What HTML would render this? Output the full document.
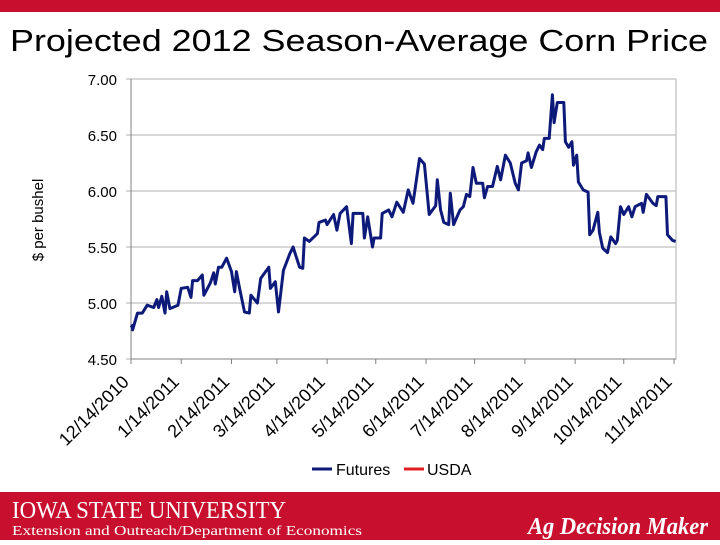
<!DOCTYPE html>
<html><head><meta charset="utf-8"><style>
body{margin:0;width:720px;height:540px;overflow:hidden;background:#fff;font-family:"Liberation Sans",sans-serif;}
</style></head><body>
<svg width="720" height="540" xmlns="http://www.w3.org/2000/svg">
<rect x="0" y="0" width="720" height="12" fill="#c8102e"/>
<text x="10" y="51" textLength="698" lengthAdjust="spacingAndGlyphs" font-size="31" font-family="Liberation Sans" fill="#000">Projected 2012 Season-Average Corn Price</text>
<g id="grid"></g><g id="axes"></g><g id="series"></g>
<text transform="translate(43,220) rotate(-90)" text-anchor="middle" font-size="15" fill="#000">$ per bushel</text>
<g>
<line x1="312" y1="469" x2="332" y2="469" stroke="#0d1a7a" stroke-width="3"/>
<text x="336" y="475" font-size="16">Futures</text>
<line x1="404" y1="469" x2="424" y2="469" stroke="#e02020" stroke-width="3"/>
<text x="427" y="475" font-size="16">USDA</text>
</g>
<rect x="0" y="492" width="720" height="48" fill="#c8102e"/>
<text x="12" y="518" textLength="274" lengthAdjust="spacingAndGlyphs" font-family="Liberation Serif" font-size="24" fill="#fff">IOWA STATE UNIVERSITY</text>
<text x="12" y="535" textLength="350" lengthAdjust="spacingAndGlyphs" font-family="Liberation Serif" font-size="14" fill="#fff">Extension and Outreach/Department of Economics</text>
<text x="708" y="534" textLength="180" lengthAdjust="spacingAndGlyphs" text-anchor="end" font-family="Liberation Serif" font-style="italic" font-weight="bold" font-size="24" fill="#fff">Ag Decision Maker</text>
</svg>
<script>
const days=[0,1,1,4,7,10,14,16,17,19,21,22,24,29,31,35,37,38,41,44,45,49,51,52,54,56,59,62,64,65,67,70,73,74,78,80,85,86,89,91,94,98,100,102,104,106,107,110,115,116,120,121,125,127,129,133,136,137,143,144,146,149,150,154,155,159,161,164,168,171,174,178,181,184,188,189,191,193,196,197,199,203,205,207,209,211,213,217,218,220,223,226,228,231,234,237,239,241,244,245,247,250,252,254,255,258,260,261,263,267,268,270,272,273,275,276,279,282,283,285,288,289,291,294,296,299,300,302,304,307,309,311,315,316,318,322,324,325,330,331,334,336];
const futures=[4.78,4.80,4.76,4.91,4.91,4.98,4.96,5.03,4.96,5.06,4.91,5.10,4.95,4.98,5.13,5.14,5.05,5.20,5.20,5.25,5.07,5.18,5.27,5.17,5.32,5.32,5.40,5.28,5.10,5.28,5.13,4.92,4.91,5.07,5.00,5.22,5.32,5.13,5.19,4.92,5.29,5.44,5.50,5.41,5.32,5.31,5.58,5.55,5.62,5.72,5.74,5.70,5.79,5.65,5.80,5.86,5.53,5.80,5.80,5.58,5.77,5.50,5.58,5.58,5.80,5.83,5.77,5.90,5.81,6.01,5.89,6.29,6.24,5.79,5.87,6.10,5.83,5.72,5.70,5.98,5.70,5.83,5.86,5.97,5.95,6.21,6.07,6.07,5.94,6.04,6.04,6.22,6.10,6.32,6.25,6.07,6.01,6.25,6.27,6.34,6.21,6.35,6.41,6.37,6.47,6.47,6.86,6.61,6.79,6.79,6.44,6.39,6.44,6.23,6.32,6.08,6.01,5.99,5.61,5.65,5.81,5.63,5.49,5.45,5.59,5.53,5.56,5.86,5.79,5.86,5.77,5.86,5.89,5.81,5.97,5.89,5.87,5.95,5.95,5.61,5.56,5.55];
const yTicks=[4.5,5.0,5.5,6.0,6.5,7.0];
const yTickLabels=["4.50","5.00","5.50","6.00","6.50","7.00"];
const xTickDays=[0,31,62,90,121,151,182,212,243,274,304,335];
const xTickLabels=["12/14/2010","1/14/2011","2/14/2011","3/14/2011","4/14/2011","5/14/2011","6/14/2011","7/14/2011","8/14/2011","9/14/2011","10/14/2011","11/14/2011"];
const NS="http://www.w3.org/2000/svg";
const X0=131,X1=674,Y0=359,Y1=79;
const xs=d=>X0+d*(X1-X0)/335;
const ys=v=>Y0-(v-4.5)*(Y0-Y1)/2.5;
function mk(tag,attrs,parent){const e=document.createElementNS(NS,tag);for(const k in attrs)e.setAttribute(k,attrs[k]);parent.appendChild(e);return e;}
const grid=document.getElementById('grid'),axes=document.getElementById('axes'),series=document.getElementById('series');
mk('rect',{x:X0,y:Y1,width:676-X0,height:Y0-Y1,fill:'none',stroke:'#b0b0b0'},grid);
yTicks.forEach((v,i)=>{
  const l=mk('line',{x1:X0-5,x2:676,y1:ys(v),y2:ys(v),stroke:'#b0b0b0'},grid);
  
  
  const t=mk('text',{x:117,y:ys(v)+6,'text-anchor':'end','font-size':15},axes);
  t.textContent=yTickLabels[i];
  
  
});
mk('line',{x1:X0,x2:X0,y1:Y1,y2:Y0,stroke:'#808080'},axes);
mk('line',{x1:X0,x2:676,y1:Y0,y2:Y0,stroke:'#808080'},axes);
xTickDays.forEach((d,i)=>{
  const x=xs(d);
  const tk=mk('line',{x1:x,x2:x,y1:Y0,y2:Y0+5,stroke:'#808080'},axes);
  
  
  const t=mk('text',{transform:`translate(${x-1},${Y0+24}) rotate(-45)`,'text-anchor':'end','font-size':18},axes);
  t.textContent=xTickLabels[i];
  
  
});
const p=mk('polyline',{points:days.map((d,i)=>xs(d).toFixed(1)+','+ys(futures[i]).toFixed(1)).join(' '),fill:'none',stroke:'#0d1a7a','stroke-width':3,'stroke-linejoin':'round'},series);


</script>
</body></html>
